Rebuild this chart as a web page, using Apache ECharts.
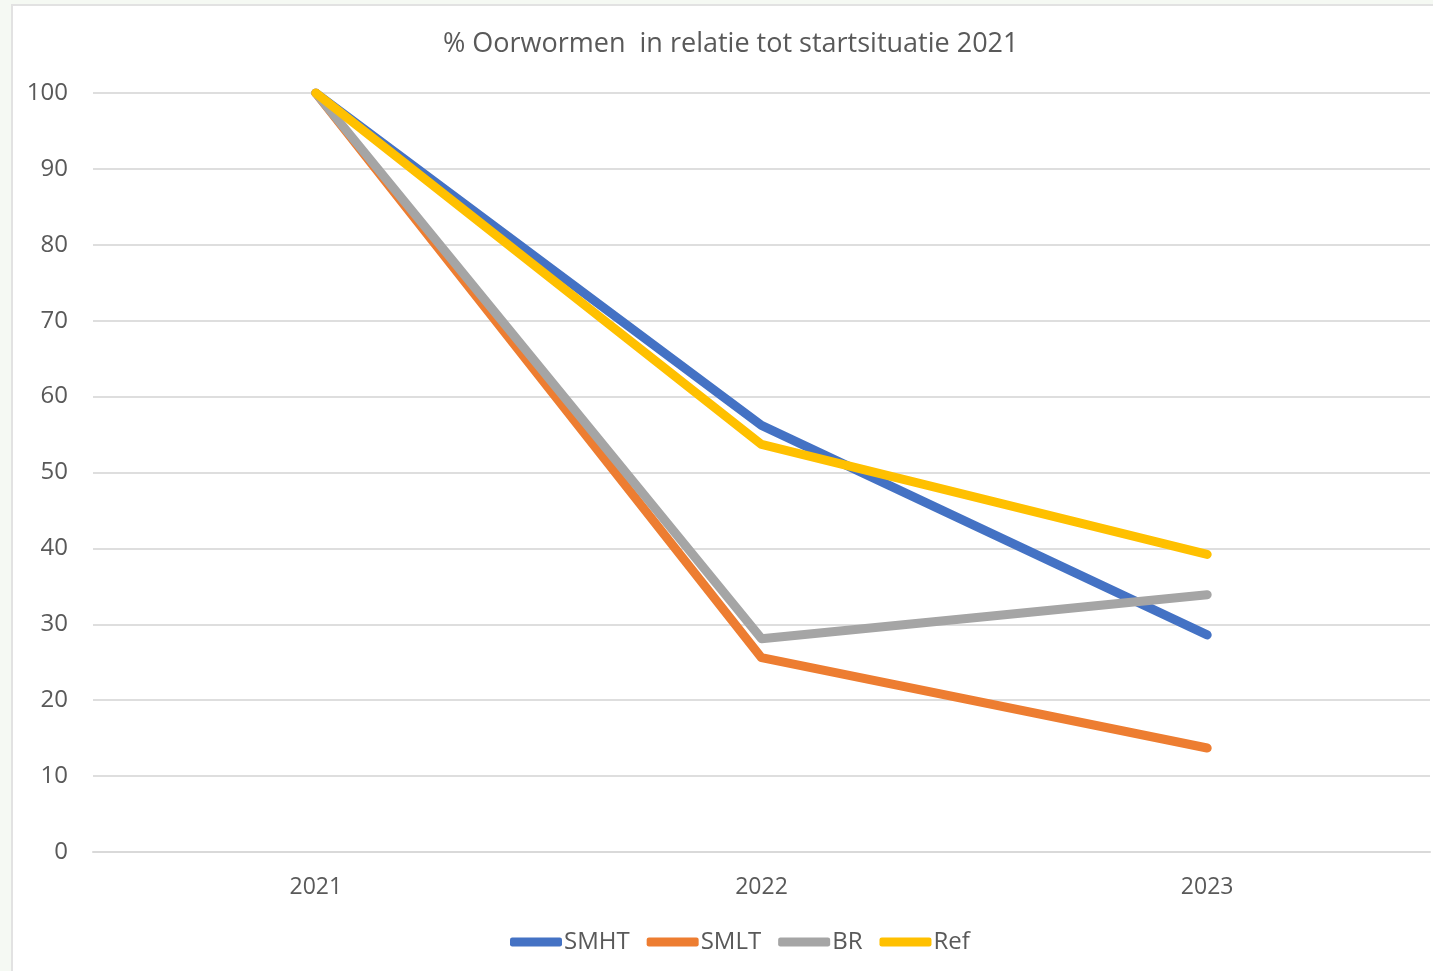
<!DOCTYPE html>
<html>
<head>
<meta charset="utf-8">
<title>% Oorwormen in relatie tot startsituatie 2021</title>
<script src="https://cdn.jsdelivr.net/npm/echarts@6/dist/echarts.min.js"></script>
<style>
  html, body { margin: 0; padding: 0; background: #f5f9f3; }
  #chart {
    position: absolute; left: 11px; top: 4px;
    width: 1422px; height: 967px;
    background: #fff;
    border-left: 2px solid #e2e2e2;
    border-top: 2px solid #e2e2e2;
    box-sizing: border-box;
  }
</style>
</head>
<body>
<div id="chart"></div>
<script>
  // data
  var years = ['2021', '2022', '2023']
  var smht = [100, 56.2, 28.6]
  var smlt = [100, 25.6, 13.7]
  var br = [100, 28.1, 33.9]
  var ref = [100, 53.7, 39.2]

  var seriesNames = ['SMHT', 'SMLT', 'BR', 'Ref']
  var seriesColors = ['#4472c4', '#ed7d31', '#a5a5a5', '#ffc000']
  var seriesData = [smht, smlt, br, ref]

  var font = '"Open Sans", Lato, sans-serif'
  var txt = '#595959'

  var chart = echarts.init(document.getElementById('chart'))

  var series = seriesNames.map(function(name, i) {
    return {
      name: name,
      type: 'line',
      data: seriesData[i],
      color: seriesColors[i],
      showSymbol: false,
      symbol: 'none',
      lineStyle: { width: 9, cap: 'round', join: 'round', color: seriesColors[i] },
      emphasis: { disabled: true }
    }
  })

  var option = {
    animation: false,
    backgroundColor: '#fff',
    title: {
      text: '% Oorwormen  in relatie tot startsituatie 2021',
      left: 425,
      top: 20,
      textStyle: { fontFamily: font, fontSize: 27, fontWeight: 'normal', color: txt }
    },
    grid: { left: 80, right: 3, top: 87, bottom: 119 },
    legend: {
      data: seriesNames,
      bottom: 12,
      left: 492,
      icon: 'roundRect',
      itemWidth: 52,
      itemHeight: 9,
      itemGap: 17,
      textStyle: { fontFamily: font, fontSize: 24, color: txt, padding: [0, 0, 0, -3] }
    },
    xAxis: {
      type: 'category',
      data: years,
      boundaryGap: true,
      axisLine: { show: true, lineStyle: { color: '#d9d9d9', width: 2 } },
      axisTick: { show: false },
      axisLabel: { fontFamily: font, fontSize: 23, color: txt, margin: 24 }
    },
    yAxis: {
      type: 'value',
      min: 0,
      max: 100,
      interval: 10,
      axisLine: { show: false },
      axisTick: { show: false },
      axisLabel: { fontFamily: font, fontSize: 24, color: txt, margin: 25 },
      splitLine: { lineStyle: { color: '#dedede', width: 2 } }
    },
    series: series
  }

  chart.setOption(option)
</script>
</body>
</html>
